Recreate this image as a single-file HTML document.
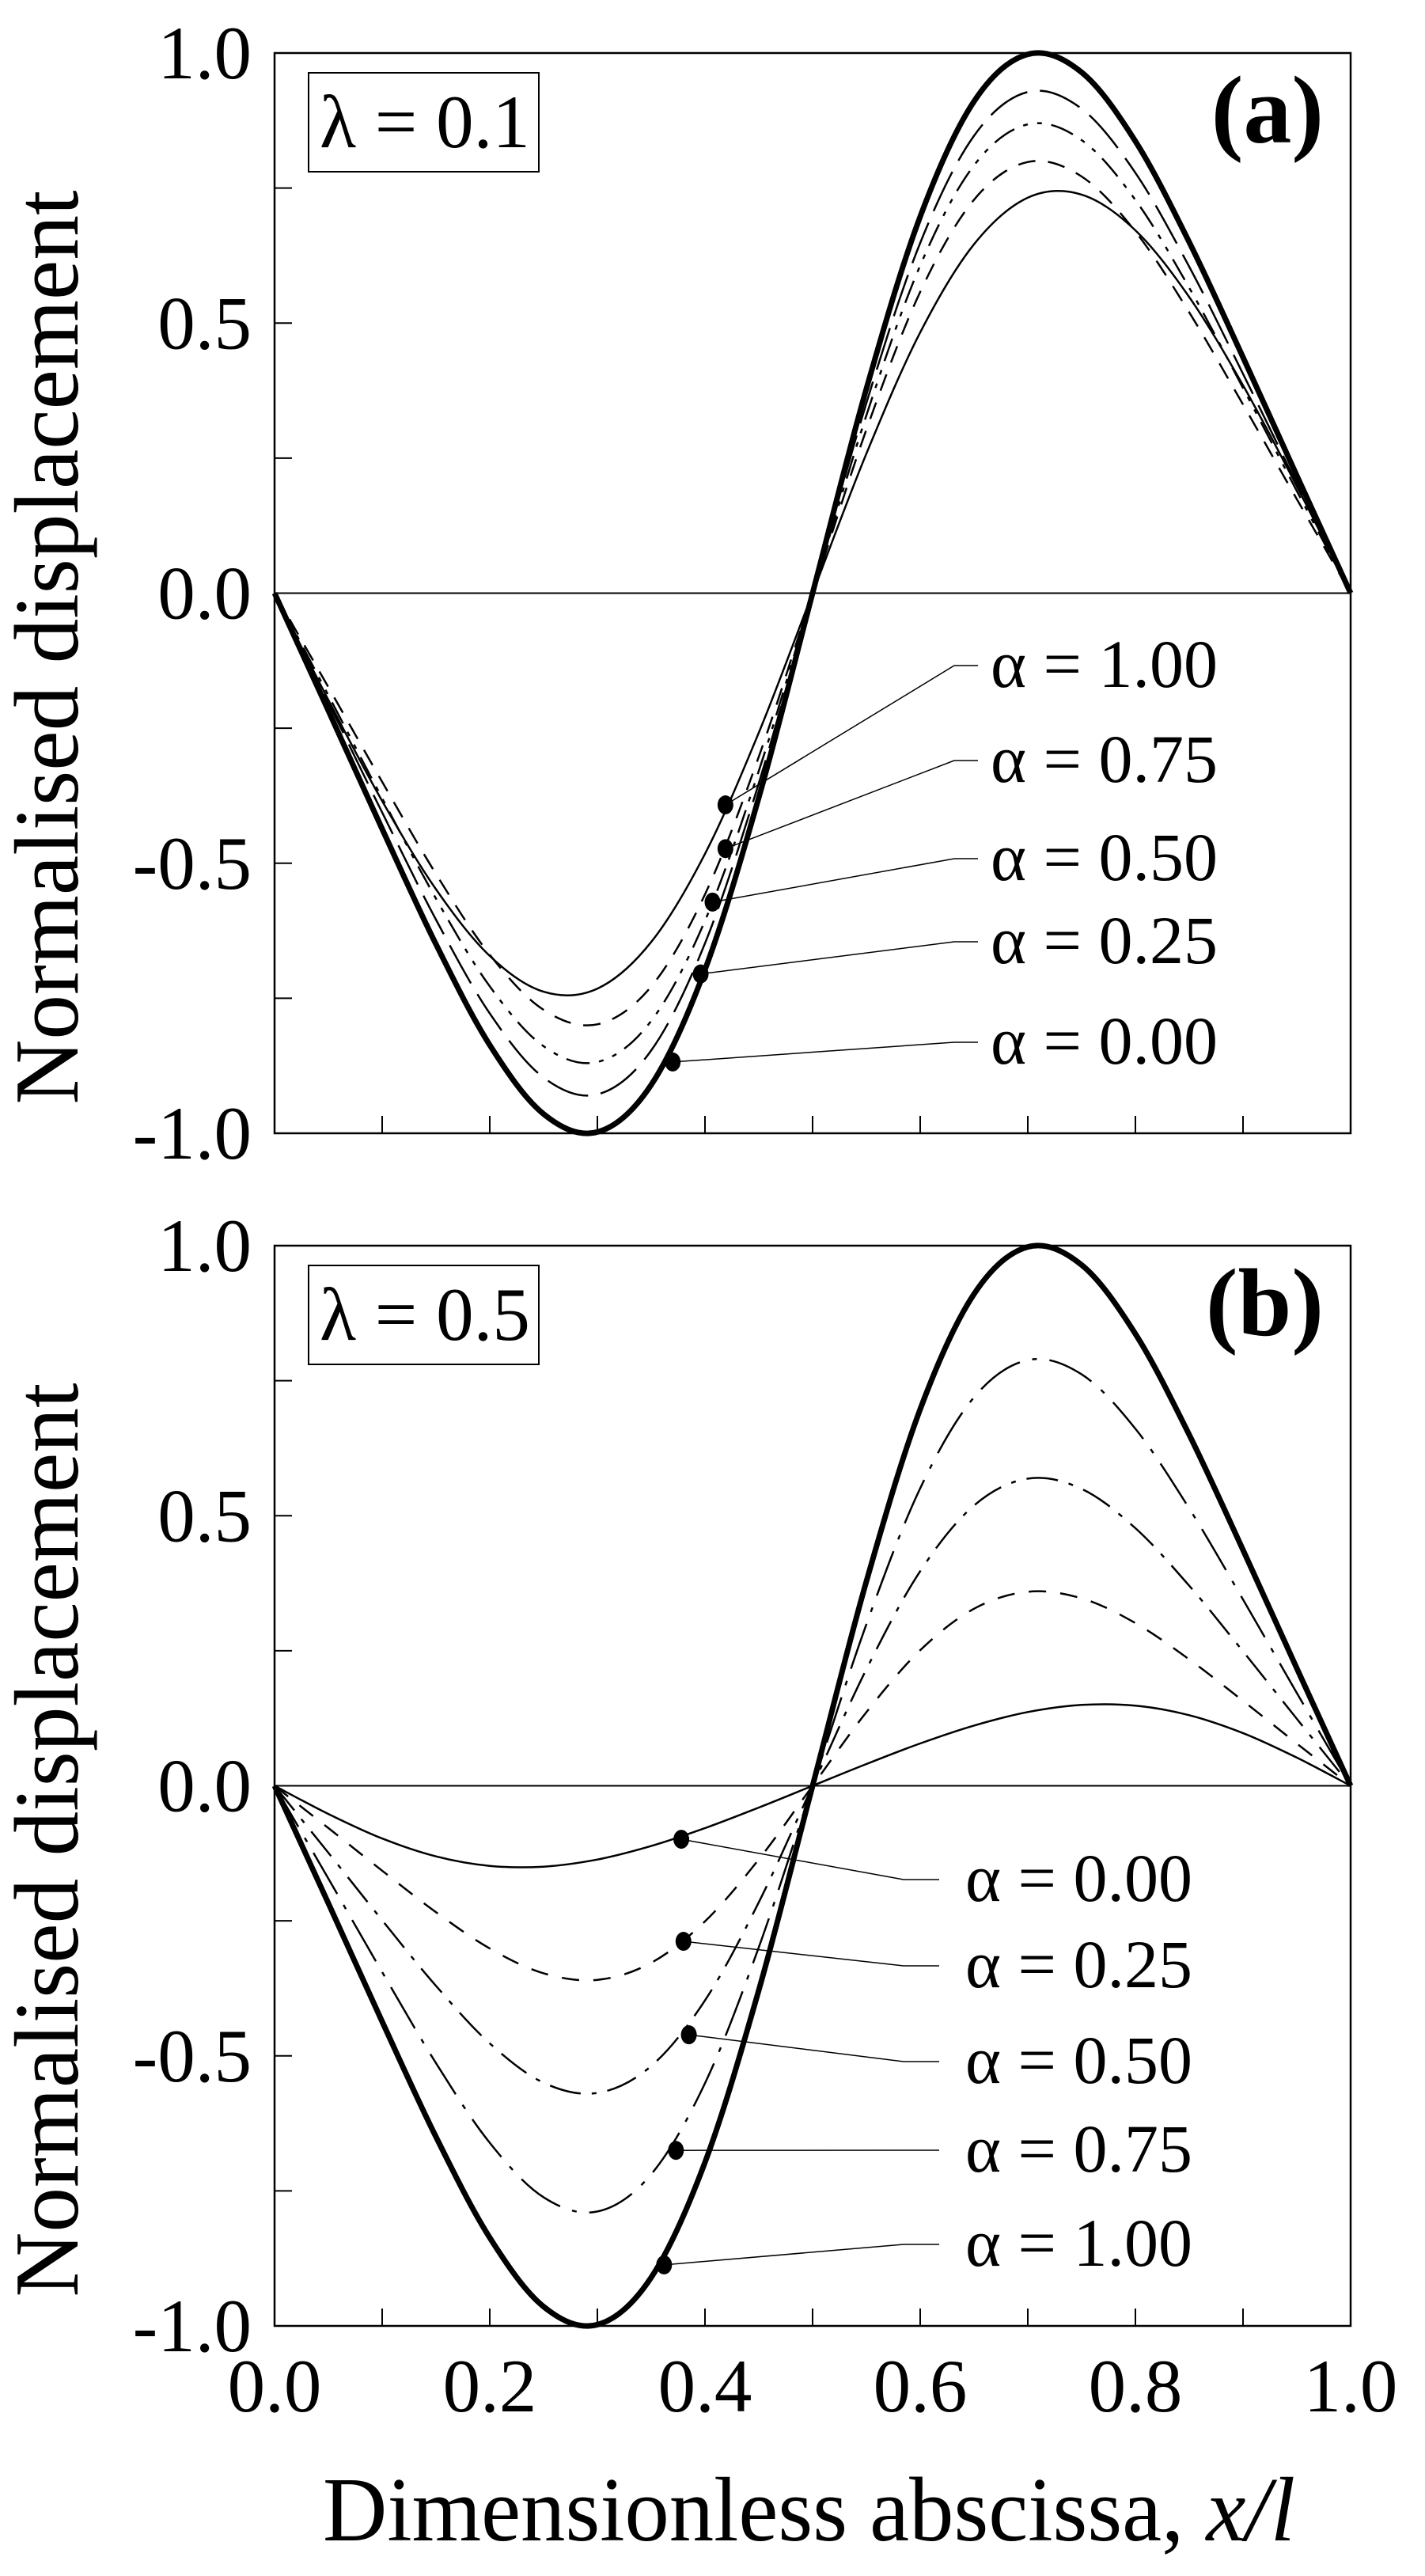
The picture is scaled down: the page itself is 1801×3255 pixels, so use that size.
<!DOCTYPE html>
<html><head><meta charset="utf-8"><style>
html,body{margin:0;padding:0;background:#fff}
svg{display:block}
svg text, svg tspan{font-family:"Liberation Serif","DejaVu Serif",serif;fill:#000}
</style></head><body>
<svg id="chart" width="1801" height="3255" viewBox="0 0 1801 3255" xmlns="http://www.w3.org/2000/svg" font-family="Liberation Serif, serif"></svg>
<script>
// ---- data ----
const xs = [0,0.05,0.1,0.15,0.2,0.25,0.3,0.35,0.4,0.45,0.5,0.55,0.6,0.65,0.7,0.75,0.8,0.85,0.9,0.95,1];
const alphaLabels = ["\u03b1 = 0.00","\u03b1 = 0.25","\u03b1 = 0.50","\u03b1 = 0.75","\u03b1 = 1.00"];
// panel (a) lambda = 0.1
const a_alpha000 = [0,-0.2175,-0.4366,-0.6499,-0.8367,-0.9643,-0.9977,-0.9104,-0.6971,-0.3785,0,0.3785,0.6971,0.9104,0.9977,0.9643,0.8367,0.6499,0.4366,0.2175,0];
const a_alpha025 = [0,-0.2023,-0.4060,-0.6044,-0.7781,-0.8968,-0.9279,-0.8467,-0.6483,-0.3520,0,0.3520,0.6483,0.8467,0.9279,0.8968,0.7781,0.6044,0.4060,0.2023,0];
const a_alpha050 = [0,-0.1892,-0.3798,-0.5654,-0.7279,-0.8389,-0.8680,-0.7920,-0.6065,-0.3293,0,0.3293,0.6065,0.7920,0.8680,0.8389,0.7279,0.5654,0.3798,0.1892,0];
const a_alpha075 = [0,-0.1740,-0.3493,-0.5199,-0.6694,-0.7714,-0.7982,-0.7283,-0.5577,-0.3028,0,0.3028,0.5577,0.7283,0.7982,0.7714,0.6694,0.5199,0.3493,0.1740,0];
const a_alpha100 = [0,-0.1978,-0.3848,-0.5481,-0.6716,-0.7379,-0.7321,-0.6459,-0.4827,-0.2583,0,0.2583,0.4827,0.6459,0.7321,0.7379,0.6716,0.5481,0.3848,0.1978,0];
const a_dotX = [0.370,0.396,0.407,0.419,0.419];
const a_dotY = [-0.868,-0.705,-0.572,-0.473,-0.392];
// panel (b) lambda = 0.5
const b_alpha000 = [0,-0.0522,-0.0976,-0.1307,-0.1483,-0.1497,-0.1365,-0.1115,-0.0784,-0.0403,0,0.0403,0.0784,0.1115,0.1365,0.1497,0.1483,0.1307,0.0976,0.0522,0];
const b_alpha025 = [0,-0.0783,-0.1572,-0.2340,-0.3012,-0.3471,-0.3592,-0.3277,-0.2510,-0.1363,0,0.1363,0.2510,0.3277,0.3592,0.3471,0.3012,0.2340,0.1572,0.0783,0];
const b_alpha050 = [0,-0.1240,-0.2489,-0.3704,-0.4769,-0.5497,-0.5687,-0.5189,-0.3973,-0.2157,0,0.2157,0.3973,0.5189,0.5687,0.5497,0.4769,0.3704,0.2489,0.1240,0];
const b_alpha075 = [0,-0.1718,-0.3449,-0.5134,-0.6610,-0.7618,-0.7882,-0.7192,-0.5507,-0.2990,0,0.2990,0.5507,0.7192,0.7882,0.7618,0.6610,0.5134,0.3449,0.1718,0];
const b_alpha100 = [0,-0.2175,-0.4366,-0.6499,-0.8367,-0.9643,-0.9977,-0.9104,-0.6971,-0.3785,0,0.3785,0.6971,0.9104,0.9977,0.9643,0.8367,0.6499,0.4366,0.2175,0];
const b_dotX = [0.378,0.380,0.385,0.373,0.362];
const b_dotY = [-0.099,-0.288,-0.461,-0.675,-0.887];
const xTicks = [0,0.2,0.4,0.6,0.8,1.0];
const xTickLabels = ["0.0","0.2","0.4","0.6","0.8","1.0"];
const yTicks = [1,0.5,0,-0.5,-1];
const yTickLabels = ["1.0","0.5","0.0","-0.5","-1.0"];

// ---- layout ----
const NS="http://www.w3.org/2000/svg";
const FONT='"Liberation Serif", serif';
const svg=document.getElementById('chart');
const L=347,R=1707;
function sx(v){return L+(R-L)*v;}
function mk(tag,attrs,parent){const e=document.createElementNS(NS,tag);for(const k in attrs)e.setAttribute(k,attrs[k]);if(tag==='text')e.setAttribute('font-family',FONT);(parent||svg).appendChild(e);return e;}
function spline(pts){let d='M'+pts[0][0]+','+pts[0][1];for(let i=0;i<pts.length-1;i++){const p0=pts[Math.max(0,i-1)],p1=pts[i],p2=pts[i+1],p3=pts[Math.min(pts.length-1,i+2)];const c1=[p1[0]+(p2[0]-p0[0])/6,p1[1]+(p2[1]-p0[1])/6],c2=[p2[0]-(p3[0]-p1[0])/6,p2[1]-(p3[1]-p1[1])/6];d+=' C'+c1[0].toFixed(1)+','+c1[1].toFixed(1)+' '+c2[0].toFixed(1)+','+c2[1].toFixed(1)+' '+p2[0].toFixed(1)+','+p2[1].toFixed(1);}return d;}

function panel(cfg){
  const T=cfg.top,B=cfg.top+1365;
  const sy=v=>(T+B)/2-(B-T)/2*v;
  const g=mk('g',{});  
  const z=mk('line',{x1:L,x2:R,y1:sy(0),y2:sy(0),stroke:'#000','stroke-width':2},g);
   
  for(let i=1;i<10;i++){const t=mk('line',{x1:sx(i/10),x2:sx(i/10),y1:B,y2:B-22,stroke:'#000','stroke-width':2},g);}
  for(let i=1;i<8;i++){const t=mk('line',{x1:L,x2:L+22,y1:sy(1-i*0.25),y2:sy(1-i*0.25),stroke:'#000','stroke-width':2},g);}
  yTicks.forEach((v,i)=>{const t=mk('text',{x:318,y:sy(v)+32,'text-anchor':'end','font-size':95},g);t.textContent=yTickLabels[i];});
  cfg.series.forEach((s,i)=>{
    const pts=xs.map((x,j)=>[sx(x),sy(s.data[j])]);
    const p=mk('path',{d:spline(pts),fill:'none',stroke:'#000','stroke-width':s.w,'stroke-dasharray':s.dash||'none','stroke-linecap':'butt'},g);
     
  });
  cfg.labelY.forEach((ly,k)=>{
    const idx=cfg.order[k];
    const dx=sx(cfg.dotX[idx]),dy=sy(cfg.dotY[idx]);
    const ln=mk('polyline',{points:dx+','+dy+' '+cfg.elbowX+','+ly+' '+cfg.endX+','+ly,fill:'none',stroke:'#000','stroke-width':1.5},g);
     
    const c=mk('ellipse',{cx:dx,cy:dy,rx:10,ry:12,fill:'#000'},g);
     
    const t=mk('text',{x:cfg.textX,y:ly+27,'font-size':86},g);t.textContent=alphaLabels[idx];
     
  });
  const f=mk('rect',{x:L,y:T,width:R-L,height:B-T,fill:'none',stroke:'#000','stroke-width':2.5},g);
   
  const lb=mk('rect',{x:390,y:T+25,width:291,height:125,fill:'#fff',stroke:'#000','stroke-width':2},g);
   
  const lt=mk('text',{x:404,y:T+119,'font-size':95},g);lt.textContent=cfg.lambda;
   
  const pl=mk('text',{x:1673,y:T+113,'text-anchor':'end','font-size':122,'font-weight':'bold'},g);pl.textContent=cfg.tag;
   
  const yc=cfg.titleY;
  const yt=mk('text',{x:98,y:yc,'text-anchor':'middle','font-size':115,transform:'rotate(-90 98 '+yc+')',textLength:1155,lengthAdjust:'spacingAndGlyphs'},g);
  yt.textContent='Normalised displacement';
   
  return {T,B};
}

panel({name:'panel-a',top:67,lambda:'\u03bb = 0.1',tag:'(a)',titleY:818,
  series:[
    {id:'a-alpha-1.00',data:a_alpha100,w:2.5},
    {id:'a-alpha-0.75',data:a_alpha075,w:2.5,dash:'22 16'},
    {id:'a-alpha-0.50',data:a_alpha050,w:2.5,dash:'30 12 6 12 6 12'},
    {id:'a-alpha-0.25',data:a_alpha025,w:2.5,dash:'55 16'},
    {id:'a-alpha-0.00',data:a_alpha000,w:7}],
  dotX:a_dotX,dotY:a_dotY,order:[4,3,2,1,0],labelY:[841,961,1085,1190,1317],elbowX:1206,endX:1236,textX:1252});
panel({name:'panel-b',top:1574,lambda:'\u03bb = 0.5',tag:'(b)',titleY:2325,
  series:[
    {id:'b-alpha-0.00',data:b_alpha000,w:2.5},
    {id:'b-alpha-0.25',data:b_alpha025,w:2.5,dash:'22 18'},
    {id:'b-alpha-0.50',data:b_alpha050,w:2.5,dash:'40 14 6 14'},
    {id:'b-alpha-0.75',data:b_alpha075,w:2.5,dash:'60 16 6 16'},
    {id:'b-alpha-1.00',data:b_alpha100,w:7}],
  dotX:b_dotX,dotY:b_dotY,order:[0,1,2,3,4],labelY:[2375,2484,2605,2717,2836],elbowX:1142,endX:1187,textX:1220});

xTicks.forEach((v,i)=>{const t=mk('text',{x:sx(v),y:3047,'text-anchor':'middle','font-size':95});t.textContent=xTickLabels[i];
 });
const xt=mk('text',{x:408,y:3210,'font-size':115,textLength:1229,lengthAdjust:'spacingAndGlyphs'});
 
const t1=mk('tspan',{},xt);t1.textContent='Dimensionless abscissa, ';
const t2=mk('tspan',{'font-style':'italic'},xt);t2.textContent='x/l';
</script>
</body></html>
